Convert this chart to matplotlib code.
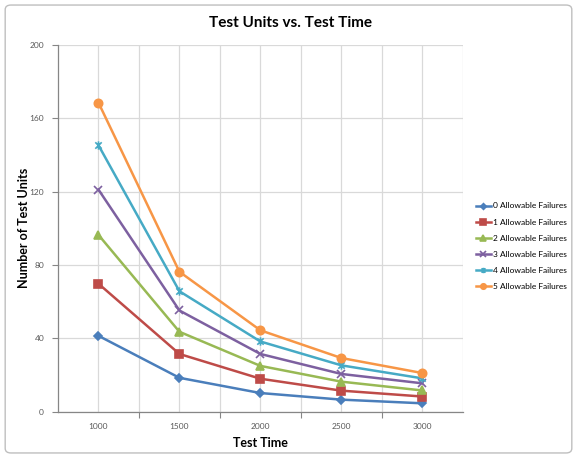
import numpy as np
import matplotlib
matplotlib.use("Agg")
import matplotlib.pyplot as plt
from matplotlib.path import Path
from matplotlib.patches import FancyBboxPatch

# Data
TEST_TIME = [1000, 1500, 2000, 2500, 3000]
FAIL_0 = [41.4, 18.5, 10.2, 6.6, 4.6]
FAIL_1 = [69.8, 31.5, 18.0, 11.5, 8.3]
FAIL_2 = [96.4, 43.6, 25.0, 16.4, 11.6]
FAIL_3 = [121.1, 55.2, 31.5, 20.6, 15.5]
FAIL_4 = [145.3, 65.7, 38.3, 25.3, 18.2]
FAIL_5 = [168.5, 76.3, 44.4, 29.3, 21.1]
SERIES_LABELS = ["0 Allowable Failures", "1 Allowable Failures", "2 Allowable Failures",
                 "3 Allowable Failures", "4 Allowable Failures", "5 Allowable Failures"]

BLUE   = "#4a7ebb"
RED    = "#be4b48"
GREEN  = "#98b954"
PURPLE = "#7d60a0"
TEAL   = "#46aac5"
ORANGE = "#f79646"

# Excel-style "star" marker: an x with a vertical stroke
star = Path([(-1, -1), (1, 1), (-1, 1), (1, -1), (0, -1.3), (0, 1.3)],
            [Path.MOVETO, Path.LINETO, Path.MOVETO, Path.LINETO, Path.MOVETO, Path.LINETO])

plt.rcParams["font.family"] = ["Lato", "DejaVu Sans"]

fig = plt.figure(figsize=(5.77, 4.58), dpi=100)
ax = fig.add_axes([0.1005, 0.101, 0.7015, 0.801])

fig.patches.append(FancyBboxPatch((0.009, 0.011), 0.982, 0.978,
                                  boxstyle="round,pad=0,rounding_size=0.01",
                                  transform=fig.transFigure, fill=False,
                                  edgecolor="#bfbfbf", linewidth=1.0))

series = [
    (FAIL_0, BLUE,   "D",  4.5, None),
    (FAIL_1, RED,    "s",  6,   None),
    (FAIL_2, GREEN,  "^",  6,   None),
    (FAIL_3, PURPLE, "x",  6,   None),
    (FAIL_4, TEAL,   star, 6,   "none"),
    (FAIL_5, ORANGE, "o",  6,   None),
]
for (vals, col, mk, ms, mfc), lab in zip(series, SERIES_LABELS):
    kw = {}
    if mfc is not None:
        kw["markerfacecolor"] = mfc
    ax.plot(TEST_TIME, vals, color=col, lw=1.8, marker=mk, markersize=ms,
            markeredgecolor=col, markeredgewidth=1.2, label=lab, **kw)

ax.set_xlim(750, 3250)
ax.set_ylim(0, 200)
ax.set_yticks(np.arange(0, 201, 40))
ax.set_xticks(np.arange(1250, 3250, 500))
ax.set_xticklabels([])
ax.set_xticks(TEST_TIME, minor=True)
ax.set_xticklabels([str(t) for t in TEST_TIME], minor=True)
ax.tick_params(axis="x", which="major", length=4, color="#868686", direction="out")
ax.tick_params(axis="x", which="minor", length=0, pad=8, labelsize=6, labelcolor="#595959")
ax.tick_params(axis="y", length=4, color="#868686", direction="out",
               labelsize=6, labelcolor="#595959", pad=6)

ax.grid(True, which="both", axis="x", color="#d9d9d9", lw=0.9)
ax.grid(True, which="major", axis="y", color="#d9d9d9", lw=0.9)
ax.axvline(3250, color="#d9d9d9", lw=0.9)
ax.set_axisbelow(True)
for s in ["top", "right"]:
    ax.spines[s].set_visible(False)
for s in ["left", "bottom"]:
    ax.spines[s].set_color("#868686")
    ax.spines[s].set_linewidth(0.9)

ax.set_xlabel("Test Time", fontsize=9, fontweight="bold", labelpad=5)
ax.set_ylabel("Number of Test Units", fontsize=9, fontweight="bold")
ax.yaxis.set_label_coords(-0.07, 0.5)
fig.text(0.503, 0.95, "Test Units vs. Test Time", ha="center", va="center",
         fontsize=11, fontweight="bold")

ax.legend(loc="center left", bbox_to_anchor=(0.822, 0.462), bbox_transform=fig.transFigure,
          frameon=False, fontsize=6.0, handlelength=1.8, handletextpad=0.3,
          labelspacing=1.1, markerscale=0.65, borderpad=0.2, borderaxespad=0)

fig.savefig("out.png", dpi=100)
